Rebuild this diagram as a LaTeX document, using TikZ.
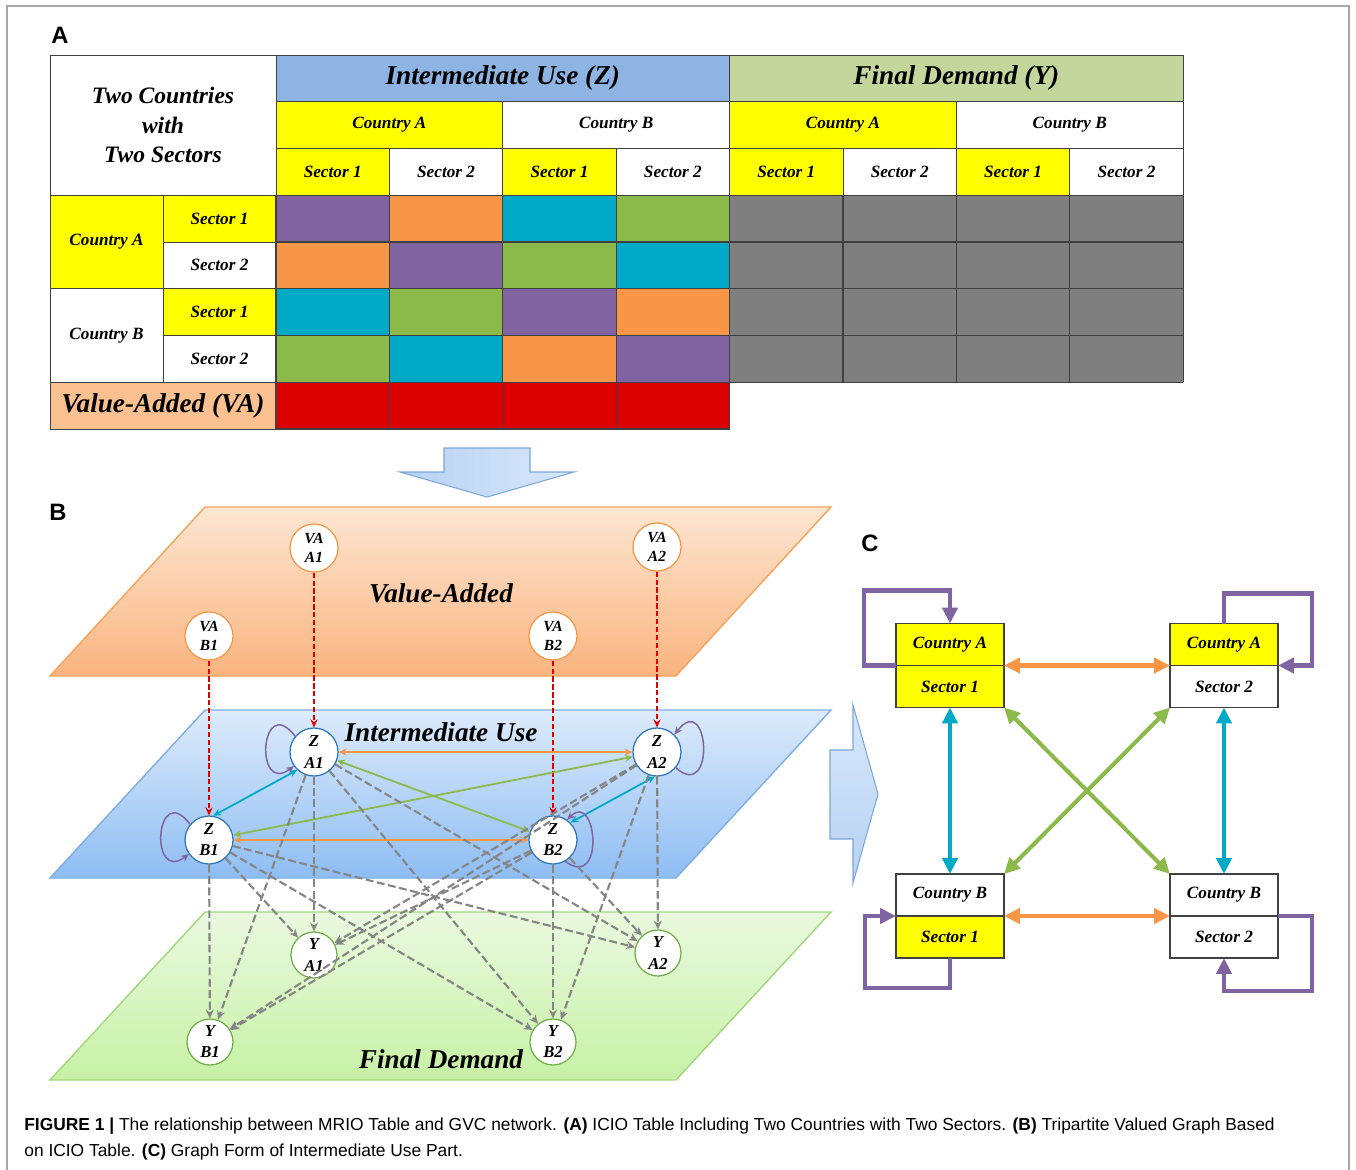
\documentclass[tikz,border=0pt]{standalone}
\usepackage{fontspec}
\setmainfont{Liberation Serif}
\newfontfamily\capfont{Liberation Sans}
\usepackage{xcolor}
\usetikzlibrary{arrows.meta,positioning}

\definecolor{cPurple}{HTML}{8064A2}
\definecolor{cOrange}{HTML}{F79646}
\definecolor{cTeal}{HTML}{00AAC6}
\definecolor{cGreen}{HTML}{8BBA4B}
\definecolor{cRed}{HTML}{DD0000}
\definecolor{cGray}{HTML}{7F7F7F}
\definecolor{cYel}{HTML}{FFFF00}
\definecolor{headZ}{HTML}{8DB4E2}
\definecolor{headY}{HTML}{C3D69B}
\definecolor{vaPeach}{HTML}{FAC08F}
\definecolor{tabLine}{HTML}{404040}
\definecolor{orTop}{HTML}{FDE6D3}
\definecolor{orBot}{HTML}{F9B47E}
\definecolor{orLine}{HTML}{F7A35C}
\definecolor{blTop}{HTML}{DDEBFB}
\definecolor{blBot}{HTML}{8EBDF3}
\definecolor{blLine}{HTML}{7FAEE3}
\definecolor{grTop}{HTML}{EAF9DF}
\definecolor{grBot}{HTML}{C6F1A5}
\definecolor{grLine}{HTML}{A3D67C}
\definecolor{zRing}{HTML}{2E75B6}
\definecolor{yRing}{HTML}{70AD47}
\definecolor{arrL}{HTML}{B7D2F3}
\definecolor{arrR}{HTML}{D7E7FA}
\definecolor{arrLine}{HTML}{7DA7D9}
\definecolor{dashGray}{HTML}{858585}

\tikzset{
  cell/.style={draw=tabLine, line width=0.5pt, inner sep=0pt, outer sep=0pt,
    anchor=north west, minimum width=2.268cm, minimum height=0.935cm,
    font=\fontsize{9.8}{11}\selectfont\bfseries\itshape},
  bigcell/.style={cell, font=\fontsize{15.5}{17}\selectfont\bfseries\itshape},
  colcell/.style={draw=tabLine, line width=0.6pt},
  plane/.style={line width=0.8pt},
  planelabel/.style={inner sep=0pt, font=\fontsize{15.5}{17}\selectfont\bfseries\itshape},
  vanode/.style={circle, draw=cOrange, fill=white, line width=0.7pt, minimum size=0.96cm,
    inner sep=0pt, align=center, font=\fontsize{8.8}{10.5}\selectfont\bfseries\itshape},
  znode/.style={vanode, draw=zRing, font=\fontsize{9.5}{12}\selectfont\bfseries\itshape},
  ynode/.style={vanode, draw=yRing, minimum size=0.92cm, font=\fontsize{9.5}{12}\selectfont\bfseries\itshape},
  vaflow/.style={draw=cRed, line width=1.1pt, dash pattern=on 3pt off 1.5pt,
    arrows={-Stealth[length=4.5pt,width=4pt]}},
  zlink/.style={line width=1pt, arrows={Stealth[length=4.5pt,width=4pt]-Stealth[length=4.5pt,width=4pt]}},
  selfloop/.style={draw=cPurple, line width=0.85pt, arrows={-Stealth[length=4.5pt,width=4pt]}},
  yflow/.style={draw=dashGray, line width=1.2pt, dash pattern=on 4.5pt off 2pt,
    arrows={-Stealth[length=5pt,width=4.5pt]}},
  cbox/.style={draw=tabLine, line width=0.6pt, minimum width=2.16cm, minimum height=0.84cm,
    inner sep=0pt, outer sep=0pt, font=\fontsize{9.8}{11}\selectfont\bfseries\itshape},
  clink/.style={line width=2.3pt, arrows={Triangle[length=9pt,width=8.5pt]-Triangle[length=9pt,width=8.5pt]}},
  cloop/.style={draw=cPurple, line width=2.3pt, arrows={-Triangle[length=9pt,width=8.5pt]}},
  bigarrow/.style={draw=arrLine, line width=0.6pt},
  panellabel/.style={inner sep=0pt, font=\capfont\fontsize{13.5}{15}\selectfont\bfseries}
}

\begin{document}
\begin{tikzpicture}[x=0.02cm, y=-0.02cm]
\useasboundingbox (0,0) rectangle (1356,1170);
\draw[gray!70, line width=0.6pt] (7,1170) -- (7,6) -- (1349,6) -- (1349,1170);

\node[panellabel] (labA) at (60,35) {A};
\node[cell, minimum width=4.52cm, minimum height=2.805cm, align=center,
  font=\fontsize{13.4}{16.7}\selectfont\bfseries\itshape] (corner) at (50,55) {Two Countries\\with\\Two Sectors};
\node[bigcell, fill=headZ, minimum width=9.072cm] (hZ) at (276,55) {Intermediate Use (Z)};
\node[bigcell, fill=headY, minimum width=9.072cm] (hY) at (729.6,55) {Final Demand (Y)};
\foreach \c/\f [count=\k from 0] in {A/cYel,B/white,A/cYel,B/white}
  \node[cell, fill=\f, minimum width=4.536cm] (cty\k) at ({276+226.8*\k},101.75) {Country \c};
\foreach \s/\f [count=\k from 0] in {1/cYel,2/white,1/cYel,2/white,1/cYel,2/white,1/cYel,2/white}
  \node[cell, fill=\f] (sec\k) at ({276+113.4*\k},148.5) {Sector \s};
\node[cell, fill=cYel, minimum width=2.26cm, minimum height=1.87cm] (rowA) at (50,195.25) {Country A};
\node[cell, fill=white, minimum width=2.26cm, minimum height=1.87cm] (rowB) at (50,288.75) {Country B};
\foreach \s/\f [count=\k from 0] in {1/cYel,2/white,1/cYel,2/white}
  \node[cell, fill=\f, minimum width=2.26cm] (rsec\k) at (163,{195.25+46.75*\k}) {Sector \s};
\node[bigcell, fill=vaPeach, minimum width=4.52cm] (rowVA) at (50,382.25) {Value-Added (VA)};
\foreach \row [count=\i from 0] in {{cPurple,cOrange,cTeal,cGreen},{cOrange,cPurple,cGreen,cTeal},
    {cTeal,cGreen,cPurple,cOrange},{cGreen,cTeal,cOrange,cPurple}}
  \foreach \col [count=\j from 0] in \row
    \fill[\col] ({276+113.4*\j},{195.25+46.75*\i}) rectangle ++(113.4,46.75);
\fill[cGray] (729.6,195.25) rectangle (1183.2,382.25);
\fill[cRed] (276,382.25) rectangle (729.6,429);
\foreach \j in {0,...,8}
  \draw[colcell] ({276+113.4*\j},195.25) -- ++(0,187);
\foreach \j in {0,...,4}
  \draw[colcell] ({276+113.4*\j},382.25) -- ++(0,46.75);
\foreach \i in {0,...,4}
  \draw[colcell] (276,{195.25+46.75*\i}) -- (1183.2,{195.25+46.75*\i});
\draw[colcell] (276,429) -- (729.6,429);

\shadedraw[bigarrow, left color=arrL, right color=arrR]
  (444,448) -- (530,448) -- (530,472) -- (574,472) -- (487,497) -- (400,472) -- (444,472) -- cycle;

\node[panellabel] (labB) at (58,512) {B};
\shadedraw[plane, top color=orTop, bottom color=orBot, draw=orLine]
  (205,507) -- (831,507) -- (676,676) -- (50,676) -- cycle;
\shadedraw[plane, top color=blTop, bottom color=blBot, draw=blLine]
  (205,710) -- (831,710) -- (676,878) -- (50,878) -- cycle;
\shadedraw[plane, top color=grTop, bottom color=grBot, draw=grLine]
  (205,912) -- (831,912) -- (676,1080) -- (50,1080) -- cycle;
\node[planelabel] (lblVA) at (441,593) {Value-Added};
\node[planelabel] (lblZ) at (441,732) {Intermediate Use};
\node[planelabel] (lblY) at (441,1059) {Final Demand};

\foreach \n/\px/\py in {A1/314/548,A2/657/547,B1/209/636,B2/553/636}
  \node[vanode] (va\n) at (\px,\py) {VA\\\n};
\foreach \n/\px/\py in {A1/314/752,A2/657/752,B1/209/840,B2/553/840}
  \node[znode] (z\n) at (\px,\py) {Z\\\n};
\foreach \n/\px/\py in {A1/314/955,A2/658/953,B1/210/1042,B2/553/1042}
  \node[ynode] (y\n) at (\px,\py) {Y\\\n};

\foreach \n in {A1,A2,B1,B2}
  \draw[vaflow] (va\n) -- (z\n);
\draw[zlink, cOrange] (zA1) -- (zA2);
\draw[zlink, cOrange] (zB1) -- (zB2);
\draw[zlink, cGreen] (zA1) -- (zB2);
\draw[zlink, cGreen] (zA2) -- (zB1);
\draw[zlink, cTeal] (zA1.227) -- (zB1.80);
\draw[zlink, cTeal] (zA2.265) -- (zB2.45);
\draw[selfloop] (zA1.140) .. controls +(-35,-45) and +(-40,30) .. (zA1.215);
\draw[selfloop] (zB1.140) .. controls +(-35,-45) and +(-40,30) .. (zB1.215);
\draw[selfloop] (zA2.-40) .. controls +(40,35) and +(35,-45) .. (zA2.45);
\draw[selfloop] (zB2.-60) .. controls +(40,30) and +(30,-30) .. (zB2.55);
\foreach \s in {zA1,zA2,zB1,zB2}
  \foreach \t in {yA1,yA2,yB1,yB2}
    \draw[yflow] (\s) -- (\t);

\shadedraw[bigarrow, top color=arrR, bottom color=arrL]
  (830,750) -- (853,750) -- (853,705) -- (878,794) -- (853,883) -- (853,839) -- (830,839) -- cycle;

\node[panellabel] (labC) at (870,543) {C};
\node[cbox, fill=cYel] (cA1h) at (950,644.5) {Country A};
\node[cbox, fill=cYel, below=0pt of cA1h] (cA1s) {Sector 1};
\node[cbox, fill=cYel] (cA2h) at (1224,644.5) {Country A};
\node[cbox, fill=white, below=0pt of cA2h] (cA2s) {Sector 2};
\node[cbox, fill=white] (cB1h) at (950,895) {Country B};
\node[cbox, fill=cYel, below=0pt of cB1h] (cB1s) {Sector 1};
\node[cbox, fill=white] (cB2h) at (1224,895) {Country B};
\node[cbox, fill=white, below=0pt of cB2h] (cB2s) {Sector 2};

\draw[cloop] (cA1h.south west) -- ++(-32,0) -- ++(0,-75) -| (cA1h.north);
\draw[cloop] (cA2h.north) -- ++(0,-30) -- ++(88,0) |- (cA2h.south east);
\draw[cloop] (cB1s.south) -- ++(0,30) -- ++(-85,0) |- (cB1h.south west);
\draw[cloop] (cB2h.south east) -- ++(34,0) -- ++(0,75) -| (cB2s.south);
\draw[clink, cOrange] (cA1h.south east) -- (cA2h.south west);
\draw[clink, cOrange] (cB1h.south east) -- (cB2h.south west);
\draw[clink, cTeal] (cA1s.south) -- (cB1h.north);
\draw[clink, cTeal] (cA2s.south) -- (cB2h.north);
\draw[clink, cGreen] (cA1s.south east) -- (cB2h.north west);
\draw[clink, cGreen] (cA2s.south west) -- (cB1h.north east);

\node[anchor=west, inner sep=0pt, align=left, font=\capfont\fontsize{9.9}{14.7}\selectfont] (caption) at (24,1139)
  {\textbf{FIGURE 1 |} The relationship between MRIO Table and GVC network. \textbf{(A)} ICIO Table Including Two Countries with Two Sectors. \textbf{(B)} Tripartite Valued Graph Based\\on ICIO Table. \textbf{(C)} Graph Form of Intermediate Use Part.};
\end{tikzpicture}
\end{document}
